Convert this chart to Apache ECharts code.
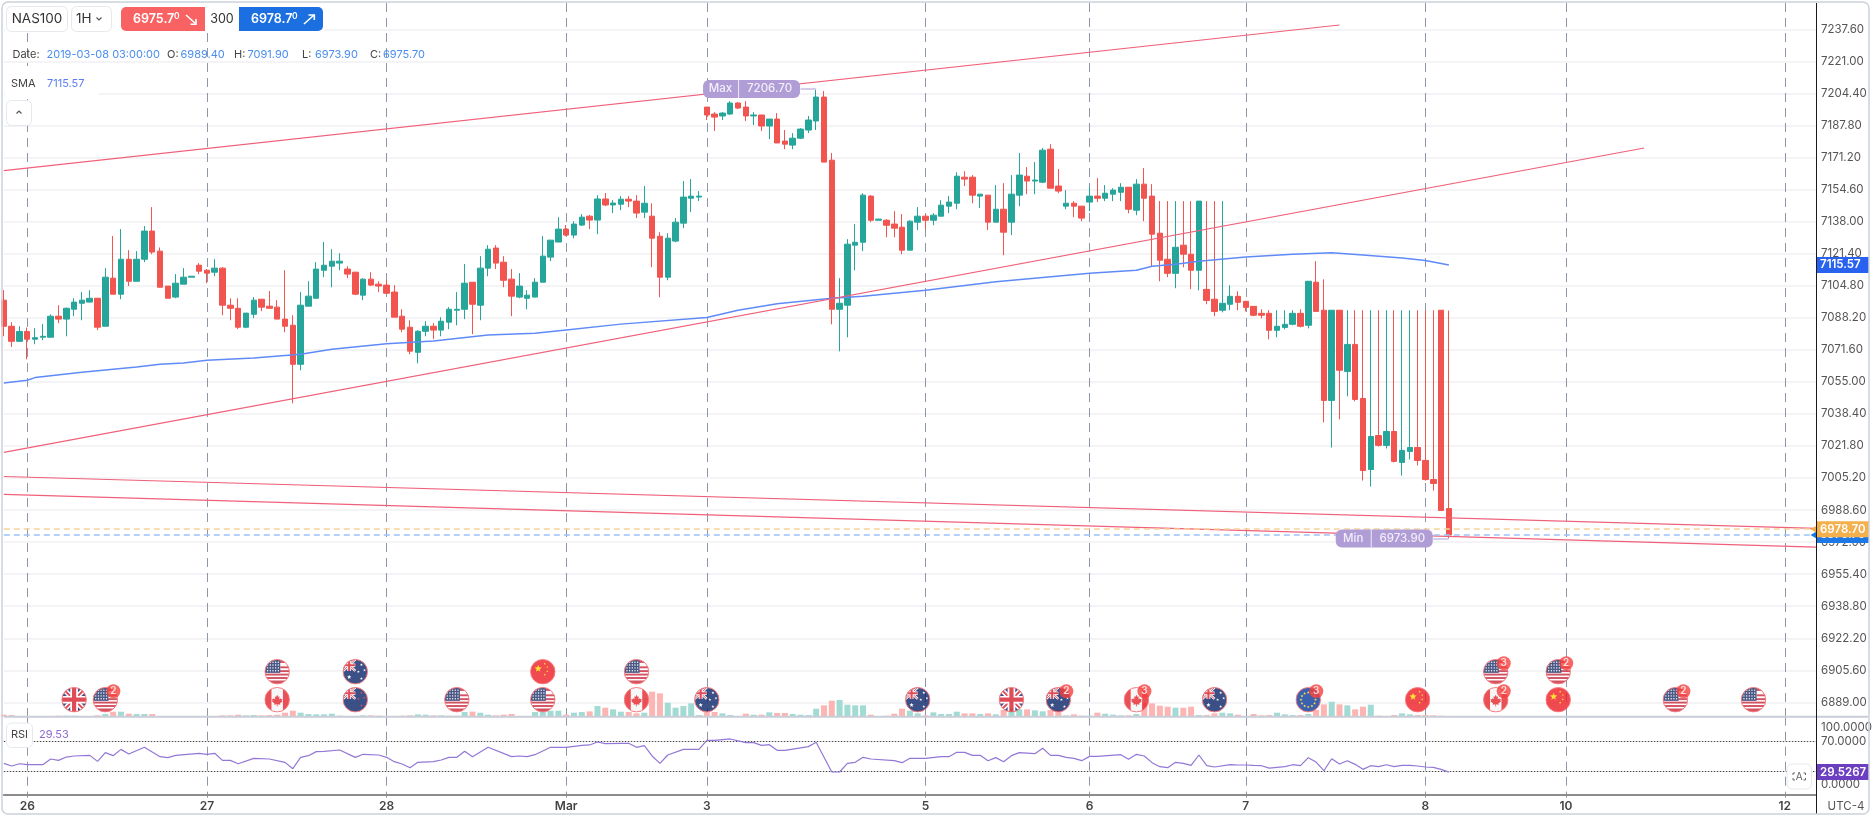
<!DOCTYPE html>
<html><head><meta charset="utf-8">
<style>html,body{margin:0;padding:0;background:#fff}#c{width:1872px;height:817px}</style>
<script src="https://cdn.jsdelivr.net/npm/echarts@6/dist/echarts.min.js"></script>
</head><body><div id="c"></div>
<script>
// ---------- tick labels ----------
const slotCount = 233;
const dayTickIndex = [3,26,49,72,90,118,139,159,182,200,228];
const dayTickLabels = ['26','27','28','Mar','3','5','6','7','8','10','12'];
const priceTicks = [6889,6905.6,6922.2,6938.8,6955.4,6972,6988.6,7005.2,7021.8,7038.4,7055,7071.6,7088.2,7104.8,7121.4,7138,7154.6,7171.2,7187.8,7204.4,7221,7237.6];
const rsiTicks = [0,70,100];
// ---------- candles ----------
const opens = [7097.3,7083.8,7076.0,7081.1,7077.1,7078.1,7078.1,7089.0,7087.5,7092.6,7095.7,7096.3,7098.3,7083.8,7108.7,7100.4,7118.5,7107.1,7118.5,7133.1,7122.7,7104.6,7098.9,7105.6,7109.2,7115.4,7112.8,7111.8,7113.9,7094.7,7093.1,7083.3,7090.0,7097.8,7094.2,7093.7,7087.5,7084.3,7064.1,7094.2,7098.3,7112.8,7114.9,7116.5,7113.4,7111.8,7099.9,7108.2,7105.6,7105.1,7101.5,7089.0,7083.3,7070.3,7081.2,7083.8,7081.8,7085.9,7092.1,7092.6,7106.6,7094.7,7113.9,7124.3,7117.0,7108.2,7098.9,7098.3,7098.9,7106.6,7119.6,7127.4,7134.1,7131.0,7136.2,7140.8,7138.8,7149.7,7146.6,7147.0,7149.6,7148.6,7142.9,7140.8,7130.4,7109.2,7127.9,7137.2,7150.1,7150.7,7197.3,7193.7,7192.7,7193.7,7199.4,7197.3,7192.7,7193.2,7187.5,7191.1,7179.7,7177.6,7181.2,7185.4,7190.1,7202.5,7169.8,7092.6,7094.7,7125.8,7127.3,7151.2,7138.7,7138.7,7136.7,7135.1,7123.2,7137.7,7140.8,7138.7,7140.8,7146.0,7147.5,7161.0,7161.0,7151.2,7151.7,7137.7,7144.4,7137.7,7151.7,7161.5,7159.0,7158.4,7175.5,7156.4,7146.0,7147.5,7146.0,7148.1,7151.2,7150.1,7152.2,7153.2,7155.8,7143.9,7157.4,7151.2,7132.0,7118.5,7111.2,7125.8,7121.1,7112.8,7102.9,7097.8,7092.1,7095.2,7099.3,7096.7,7094.1,7090.5,7090.5,7081.7,7083.2,7084.8,7090.5,7084.3,7106.6,7092.1,7045.4,7092.1,7060.4,7074.4,7046.4,7009.6,7027.2,7022.1,7029.3,7013.3,7019.0,7021.0,7014.3,7004.4,7092.1,6989.4];
const closes = [7083.8,7076.0,7081.1,7077.1,7077.9,7078.6,7089.0,7087.5,7093.1,7096.3,7097.3,7098.3,7083.3,7109.2,7100.4,7118.5,7107.1,7118.5,7133.1,7122.2,7104.0,7098.3,7106.1,7109.2,7109.7,7112.3,7111.3,7113.9,7094.7,7093.1,7083.3,7090.6,7097.3,7093.7,7093.1,7087.5,7083.8,7064.1,7094.7,7099.4,7113.4,7115.4,7117.5,7117.5,7110.8,7100.4,7108.2,7105.1,7104.6,7100.9,7088.5,7082.3,7070.9,7081.2,7083.8,7081.8,7086.4,7092.6,7092.6,7106.1,7095.2,7113.9,7123.7,7116.5,7107.6,7099.4,7104.6,7099.9,7106.6,7120.1,7128.4,7134.1,7131.0,7136.7,7140.3,7138.8,7149.7,7146.6,7147.6,7149.6,7148.6,7142.4,7147.5,7129.4,7109.2,7129.4,7137.7,7150.7,7151.2,7151.2,7193.2,7192.1,7194.2,7199.4,7196.8,7192.7,7193.2,7187.5,7191.1,7178.7,7178.1,7181.2,7185.9,7190.6,7202.5,7168.8,7092.6,7095.7,7126.3,7127.3,7151.7,7138.7,7139.3,7136.1,7134.6,7123.2,7138.2,7140.8,7138.7,7141.3,7146.5,7148.1,7161.5,7160.0,7151.7,7152.2,7137.7,7144.4,7132.5,7152.2,7162.1,7159.0,7159.5,7175.0,7155.3,7153.8,7147.5,7146.0,7139.8,7151.2,7150.1,7152.7,7154.3,7155.8,7144.4,7157.4,7150.1,7131.5,7118.0,7111.2,7124.7,7121.1,7112.8,7148.6,7097.2,7091.5,7095.7,7099.3,7096.2,7093.6,7089.5,7089.5,7081.7,7083.8,7084.8,7090.5,7083.8,7107.1,7091.5,7045.4,7092.1,7061.0,7074.4,7045.9,7009.1,7026.7,7022.1,7029.3,7013.8,7019.5,7021.0,7014.3,7004.4,7002.4,6988.4,6975.7];
const highs = [7102.5,7085.9,7083.8,7083.1,7082.8,7084.9,7090.0,7094.7,7093.5,7098.3,7101.5,7102.5,7098.5,7113.9,7130.5,7134.1,7123.2,7122.7,7135.7,7145.5,7124.6,7104.6,7110.8,7113.9,7109.7,7116.5,7113.4,7118.5,7114.4,7098.3,7098.3,7090.6,7098.9,7097.8,7102.0,7097.3,7112.8,7089.5,7101.5,7107.1,7117.0,7127.4,7123.7,7121.6,7114.9,7111.8,7108.7,7111.8,7107.1,7107.6,7105.1,7092.6,7086.9,7081.8,7086.4,7085.4,7088.5,7093.7,7101.5,7116.0,7106.6,7120.1,7125.8,7125.8,7120.1,7113.4,7111.3,7102.5,7108.7,7130.5,7128.4,7140.3,7136.2,7138.2,7141.9,7141.4,7151.7,7152.8,7149.1,7151.2,7151.2,7151.7,7156.4,7147.5,7132.5,7132.0,7139.8,7159.0,7160.0,7153.8,7197.3,7194.7,7194.7,7200.4,7199.9,7200.4,7194.7,7193.2,7191.1,7194.2,7185.4,7183.8,7186.4,7192.7,7206.7,7205.6,7173.5,7108.7,7128.9,7136.7,7152.7,7151.7,7139.3,7139.3,7143.4,7141.9,7138.7,7145.5,7141.9,7142.4,7149.1,7151.2,7163.6,7164.1,7162.1,7152.2,7151.7,7156.9,7157.9,7162.1,7173.5,7166.2,7168.8,7176.1,7178.1,7165.2,7154.3,7148.6,7146.0,7155.8,7160.5,7156.9,7155.3,7157.9,7155.8,7160.0,7165.7,7157.4,7148.6,7148.6,7148.6,7148.6,7148.6,7148.6,7148.6,7148.6,7148.6,7105.0,7101.9,7096.7,7094.1,7092.6,7092.1,7092.1,7092.1,7092.1,7092.6,7107.1,7117.5,7108.1,7092.1,7092.1,7092.1,7092.1,7092.1,7092.1,7092.1,7092.1,7092.1,7092.1,7092.1,7092.1,7092.1,7092.1,7092.1,7091.9];
const lows = [7078.6,7073.1,7076.0,7066.7,7074.5,7076.6,7078.1,7085.4,7078.6,7089.0,7086.9,7096.3,7081.8,7083.8,7100.4,7097.8,7104.6,7107.1,7117.0,7121.1,7104.0,7098.3,7098.3,7105.6,7109.2,7110.8,7106.1,7109.7,7089.5,7086.9,7082.3,7082.8,7088.0,7091.6,7093.1,7087.5,7080.7,7043.9,7061.0,7094.2,7098.3,7109.2,7104.0,7112.8,7108.7,7099.9,7097.3,7104.6,7101.5,7100.9,7088.5,7080.7,7069.3,7064.6,7078.6,7077.1,7078.6,7082.3,7084.3,7087.5,7079.7,7086.9,7109.7,7113.4,7104.0,7089.0,7098.3,7092.6,7098.9,7106.6,7117.5,7127.4,7130.5,7129.4,7135.7,7134.1,7131.5,7146.0,7142.4,7143.9,7145.5,7139.8,7139.8,7114.4,7098.8,7107.6,7127.3,7134.6,7142.9,7148.6,7190.6,7184.9,7190.6,7193.2,7196.3,7190.1,7188.0,7184.9,7180.7,7178.7,7175.5,7175.5,7180.7,7183.8,7185.4,7168.8,7084.8,7070.8,7078.1,7112.8,7122.7,7137.7,7138.7,7129.9,7129.9,7121.1,7123.2,7133.6,7134.1,7136.1,7140.8,7142.4,7144.4,7156.4,7147.5,7145.0,7133.6,7137.7,7120.6,7131.0,7146.0,7152.2,7152.2,7157.9,7155.3,7152.7,7144.4,7140.3,7138.2,7143.4,7148.1,7148.6,7148.6,7148.6,7142.3,7141.3,7138.2,7114.9,7107.1,7109.2,7103.5,7114.3,7103.0,7102.4,7095.2,7089.0,7091.0,7092.1,7092.1,7091.5,7089.0,7087.9,7077.0,7078.1,7082.2,7084.3,7083.2,7082.7,7091.5,7034.0,7021.0,7035.6,7047.5,7044.9,7003.9,7000.8,7021.5,7020.5,7013.3,7006.5,7014.8,7011.7,7003.9,6998.7,6988.4,6973.9];
const volumes = [6,5,2,2,2,2,2,3,3,3,2,2,4,8,15,15,9,8,8,8,2,1,1,1,1,0,1,2,4,4,6,4,5,4,5,6,12,18,12,8,7,7,9,3,2,2,4,4,3,2,2,3,4,7,6,4,4,3,3,14,15,12,6,4,6,8,2,2,14,14,18,18,6,12,14,16,32,27,22,15,14,10,12,75,70,42,27,32,40,5,14,14,10,5,1,9,6,6,13,11,11,8,6,5,24,34,48,50,36,34,34,6,0,3,9,24,18,10,4,13,8,8,15,10,10,8,10,7,20,24,22,22,19,16,20,20,4,7,3,3,12,9,6,4,4,8,42,40,33,30,27,27,30,5,5,10,12,10,6,2,8,4,5,12,7,5,5,8,20,37,45,37,34,22,30,36,3,2,5,10,7,5,5,4,3,2];
// ---------- SMA(index, value) and RSI(index, value) ----------
const smaIndex = [0,3,4,10,17,20,23,26,32,38,42,49,55,62,68,72,79,90,94,99,106,110,118,127,139,145,147,150,153,159,165,170,174,179,182,185];
const smaValues = [7054.4,7055.8,7057.2,7060.0,7062.7,7064.1,7064.8,7066.2,7067.4,7069.3,7071.9,7074.7,7076.2,7079.3,7080.2,7081.9,7084.9,7088.3,7092.1,7095.5,7098.3,7099.3,7102.5,7106.8,7111.3,7112.8,7114.9,7115.9,7117.5,7119.7,7121.1,7121.8,7120.7,7119.2,7117.8,7115.57];
const rsiIndex = [0,1,2,3,5,6,7,8,9,11,12,13,14,15,16,18,20,21,22,25,26,27,28,29,30,32,34,36,37,38,39,40,41,43,45,46,48,49,50,51,52,53,55,56,57,58,59,60,62,65,66,67,68,70,72,74,75,76,77,79,80,81,82,83,84,85,87,89,90,91,93,95,96,97,98,99,100,103,104,106,107,108,109,110,111,114,115,116,118,120,121,122,123,124,125,126,127,128,129,130,132,133,134,135,136,137,138,139,140,143,144,145,146,147,148,149,150,151,152,153,154,155,157,158,159,160,161,162,164,165,166,167,168,169,170,171,172,173,174,175,176,177,178,179,180,181,182,183,184,185];
const rsiValues = [41.0,37.5,40.5,39.2,39.2,46.7,44.9,49.3,50.7,51.5,43.6,55.1,51.1,59.4,53.3,62.1,49.8,48.5,51.5,54.2,52.9,54.2,44.9,44.9,40.5,47.6,46.7,42.3,34.0,48.9,51.1,56.4,56.8,58.6,48.9,52.9,52.0,48.9,43.2,40.1,35.3,42.3,43.2,45.4,48.9,48.9,56.8,49.8,62.1,49.8,50.7,49.8,52.4,62.1,62.1,64.7,65.2,69.1,66.9,67.4,67.4,62.1,64.3,50.7,41.0,52.0,59.4,59.4,71.3,71.3,73.1,68.2,68.2,64.7,65.6,58.1,58.1,63.0,68.7,29.6,29.6,41.0,42.3,48.9,46.7,44.5,41.9,47.6,47.6,49.8,49.8,55.5,55.5,51.5,51.5,44.5,48.5,43.2,51.1,55.1,53.7,60.8,51.5,51.5,48.9,47.6,44.5,50.2,50.2,52.4,46.3,52.9,50.7,41.9,36.6,35.3,42.3,41.0,38.3,52.0,37.9,36.2,39.2,38.8,38.8,38.3,37.9,34.8,36.6,39.2,37.9,48.5,42.7,31.3,47.1,40.1,44.5,39.7,33.1,37.9,36.6,39.2,36.6,38.3,38.3,37.5,36.2,35.7,33.1,29.53];
// ---------- trend lines: [startIndex, startPrice, endIndex, endPrice] ----------
const trendHigh = [0,7164.4,171,7239.8];
const trendMid = [0,7018.5,210,7176.1];
const trendLowA = [0,7006.0,232,6979.1];
const trendLowB = [0,6996.7,232,6969.4];
// ---------- last values ----------
const askPrice = 6978.7, bidPrice = 6975.7, smaLast = 7115.57, rsiLast = 29.5267;
const maxIndex = 104, maxPrice = 7206.7, minIndex = 185, minPrice = 6973.9;
// ---------- calendar events ----------
const eventIndex = [9,13,35,35,45,45,58,69,69,81,81,90,117,129,135,145,155,167,181,191,191,199,199,214,224];
const eventPrice = [6890.4,6890.4,6904.9,6890.4,6904.9,6890.4,6890.4,6904.9,6890.4,6904.9,6890.4,6890.4,6890.4,6890.4,6890.4,6890.4,6890.4,6890.4,6890.4,6904.9,6890.4,6904.9,6890.4,6890.4,6890.4];
const eventFlag = ['uk','us','us','ca','au','nz','us','cn','us','us','ca','au','au','uk','au','ca','au','eu','cn','us','ca','us','cn','us','us'];
const eventBadge = [0,2,0,0,0,0,0,0,0,0,0,0,0,0,2,3,0,3,0,3,2,2,0,2,0];

const UP='#26a69a', DOWN='#f2544f', FONT='Inter, "Noto Sans", sans-serif', CLEAR='rgba(0,0,0,0)';
const categories = Array.from({length:slotCount},(_,i)=>{const k=dayTickIndex.indexOf(i);return k>=0?dayTickLabels[k]:String(i);});
const isDay = i => dayTickIndex.includes(i);
const candleData = opens.map((o,i)=>[o,closes[i],lows[i],highs[i]]);
const volData = volumes.map((v,i)=>({value:v,itemStyle:{color:closes[i]>=opens[i]?'#a1dbd3':'#fcb5b2'}}));
const pairs = (a,b)=>a.map((x,i)=>[x,b[i]]);
const seg = t=>[[t[0],t[1]],[t[2],t[3]]];

// ---------- flag art ----------
function union(x,y,w,h){return `<g transform="translate(${x} ${y}) scale(${w/64} ${h/64})"><rect width="64" height="64" fill="#12296b"/><path d="M0 0L64 64M64 0L0 64" stroke="#fff" stroke-width="13"/><path d="M0 0L64 64M64 0L0 64" stroke="#d8202f" stroke-width="5"/><path d="M32 0V64M0 32H64" stroke="#fff" stroke-width="20"/><path d="M32 0V64M0 32H64" stroke="#d8202f" stroke-width="11"/></g>`;}
function star(x,y,r,c){let p=[];for(let k=0;k<10;k++){const a=-Math.PI/2+k*Math.PI/5,q=k%2?r*0.42:r;p.push((x+q*Math.cos(a)).toFixed(1)+','+(y+q*Math.sin(a)).toFixed(1));}return `<polygon points="${p.join(' ')}" fill="${c}"/>`;}
const art = {
 us:()=>{let s='<rect width="64" height="64" fill="#fff"/>';[28,37,46,55].forEach((y,k)=>{s+=`<rect y="${y}" width="64" height="${k==3?9:5}" fill="#c8283c"/>`;});s+='<rect y="0" width="64" height="9" fill="#c8283c"/><rect y="18" x="40" width="24" height="5" fill="#c8283c"/><rect width="40" height="35" fill="#1c2f66"/>';for(let r=0;r<4;r++)for(let c=0;c<5;c++)s+=`<circle cx="${7+c*7}" cy="${7+r*7.5}" r="1.9" fill="#fff"/>`;return s;},
 uk:()=>union(0,0,64,64),
 ca:()=>'<rect width="64" height="64" fill="#f5f5f7"/><rect width="17" height="64" fill="#e5262d"/><rect x="47" width="17" height="64" fill="#e5262d"/><path d="M32 19l3 6 3-2-1 8 4-3 1 3 4-1-2 5 2 1-7 6 1 3-7-1v6h-2v-6l-7 1 1-3-7-6 2-1-2-5 4 1 1-3 4 3-1-8 3 2z" fill="#e5262d"/>',
 au:()=>`<rect width="64" height="64" fill="#0a2568"/>${union(0,0,32,30)}${star(16,46,6,'#fff')}${star(48,14,4,'#fff')}${star(40,32,4,'#fff')}${star(56,28,4,'#fff')}${star(48,50,4,'#fff')}`,
 nz:()=>`<rect width="64" height="64" fill="#0a2568"/>${union(0,0,32,30)}${star(48,14,3.6,'#d8202f')}${star(40,30,3.6,'#d8202f')}${star(55,27,3.6,'#d8202f')}${star(48,47,3.6,'#d8202f')}`,
 cn:()=>`<rect width="64" height="64" fill="#ee1c25"/>${star(20,24,10,'#ffdd00')}${star(37,11,3.2,'#ffdd00')}${star(44,20,3.2,'#ffdd00')}${star(44,31,3.2,'#ffdd00')}${star(37,40,3.2,'#ffdd00')}`,
 eu:()=>{let s='<rect width="64" height="64" fill="#0b3a9c"/>';for(let k=0;k<12;k++){const a=k*Math.PI/6;s+=star(32+19*Math.cos(a),32+19*Math.sin(a),4,'#ffd617');}return s;}
};
function flagSymbol(name){
 const svg=`<svg xmlns="http://www.w3.org/2000/svg" width="128" height="128" viewBox="-2 -2 68 68"><defs><clipPath id="k"><circle cx="32" cy="32" r="32"/></clipPath></defs><g clip-path="url(#k)">${art[name]()}</g><circle cx="32" cy="32" r="32" fill="none" stroke="#f45a5e" stroke-width="2.6"/></svg>`;
 return 'image://data:image/svg+xml;charset=utf-8,'+encodeURIComponent(svg);
}
const eventData = eventIndex.map((x,i)=>({value:[x,eventPrice[i]],symbol:flagSymbol(eventFlag[i])}));
const badgeData = eventIndex.map((x,i)=>eventBadge[i]?{value:[x,eventPrice[i],eventBadge[i]]}:null).filter(Boolean);

// ---------- overlay chrome ----------
const g=[];
function T(x,y,text,o={}){g.push({type:'text',z:102,x,y,style:{text,fill:o.c||'#333',font:`${o.w||400} ${o.s||11}px ${FONT}`,textAlign:o.a||'left',textVerticalAlign:'middle'}});}
function R(x,y,w,h,o={}){g.push({type:'rect',z:o.z||101,shape:{x,y,width:w,height:h,r:o.r==null?5:o.r},style:{fill:o.f||'#fff',stroke:o.s||null,lineWidth:o.lw||1}});}
function P(pts,o={}){g.push({type:'polyline',z:o.z||103,shape:{points:pts},style:{stroke:o.c||'#555',lineWidth:o.lw||1.2,fill:null}});}
R(5,3,320,30,{z:100,r:0}); R(5,66,94,33,{z:100,r:0});
R(1816,3,1,811,{f:'#1a1a1a',r:0,z:99});
R(4,715.7,1864,2,{f:'#c9cdd8',r:0,z:98});
R(6.5,6.5,61,25,{s:'#e6e8ed'}); T(37,19,'NAS100',{s:13.5,a:'center'});
R(71.5,6.5,40,25,{s:'#e6e8ed'}); T(76,19,'1H',{s:13.5}); P([[96.5,17.5],[99,20],[101.5,17.5]]);
R(121,7,84,24,{f:'#f96262',r:[5,0,0,5]}); T(133,19,'6975.7',{s:12.5,c:'#fff',w:600}); T(174,16,'0',{s:8.5,c:'#fff',w:600});
P([[186,15],[196,24]],{c:'#fff',lw:1.6}); P([[196,19],[196,24.3],[190.5,24.3]],{c:'#fff',lw:1.6});
T(222,19,'300',{s:12.5,a:'center'});
R(239,7,84,24,{f:'#1c6fe0',r:[0,5,5,0]}); T(251,19,'6978.7',{s:12.5,c:'#fff',w:600}); T(292,16,'0',{s:8.5,c:'#fff',w:600});
P([[304,24],[314,15]],{c:'#fff',lw:1.6}); P([[308.5,15],[314.3,15],[314.3,20]],{c:'#fff',lw:1.6});
const blue='#4a8ef0';
T(12.5,55,'Date:',{c:'#444'}); T(46.5,55,'2019-03-08 03:00:00',{c:blue});
T(167,55,'O:',{c:'#444'}); T(180.5,55,'6989.40',{c:blue});
T(234,55,'H:',{c:'#444'}); T(247.5,55,'7091.90',{c:blue});
T(302,55,'L:',{c:'#444'}); T(315,55,'6973.90',{c:blue});
T(370,55,'C:',{c:'#444'}); T(383,55,'6975.70',{c:blue});
T(11,84,'SMA',{c:'#444'}); T(47,84,'7115.57',{c:'#5a7df2'});
R(6.5,100.5,25,25,{s:'#e6e8ed'}); P([[16.5,113.5],[19,111],[21.5,113.5]]);
R(6.5,723,26,24.5,{s:'#e6e8ed'}); T(19.5,735,'RSI',{a:'center',c:'#444'}); T(39,735,'29.53',{c:'#8e6ad0'});
R(1787,764,24.5,25,{s:'#e6e8ed'}); T(1799.2,776.5,'A',{s:10,a:'center',c:'#666'});
[[1793,773,1,1],[1805.5,773,-1,1],[1793,780,1,-1],[1805.5,780,-1,-1]].forEach(q=>P([[q[0],q[1]+2*q[3]],[q[0],q[1]],[q[0]+2*q[2],q[1]]],{c:'#666',lw:1}));
T(1846,806.5,'UTC-4',{s:11.5,a:'center',c:'#555'});
g.push({type:'rect',z:110,shape:{x:2,y:2,width:1867,height:812,r:6},style:{fill:null,stroke:'#ccd2da',lineWidth:1.5}});

const tagLabel=(text,color)=>({show:true,position:'end',distance:0,formatter:text,color:'#fff',backgroundColor:color,fontWeight:600,fontSize:11.5,fontFamily:FONT,padding:[1,0,1,4],width:49,height:14,lineHeight:14,align:'left'});

const option={
 animation:false,
 textStyle:{fontFamily:FONT},
 grid:[{left:3.8,top:3,width:1812.2,height:713.7,outerBoundsMode:'none'},{left:3.8,top:716.7,width:1812.2,height:80,outerBoundsMode:'none'}],
 xAxis:[
  {type:'category',gridIndex:0,data:categories,boundaryGap:false,axisLine:{show:false},axisTick:{show:false},axisLabel:{show:false},
   splitLine:{show:true,interval:isDay,lineStyle:{color:'#8e97a8',type:[9,6],width:1}}},
  {type:'category',gridIndex:1,data:categories,boundaryGap:false,axisLine:{show:true,lineStyle:{color:'#8c8c8c',width:2}},
   axisTick:{show:true,interval:isDay,length:3,lineStyle:{color:'#8c8c8c'}},
   axisLabel:{interval:isDay,color:'#444',fontWeight:600,fontSize:12,fontFamily:FONT,margin:4,hideOverlap:false},
   splitLine:{show:true,interval:isDay,lineStyle:{color:'#8e97a8',type:[9,6],width:1}}}
 ],
 yAxis:[
  {type:'value',gridIndex:0,position:'right',min:6881.6,max:7251.2,axisLine:{show:false},
   axisTick:{show:false,customValues:priceTicks},
   axisLabel:{customValues:priceTicks,formatter:v=>v.toFixed(2),color:'#555',fontSize:11.5,fontFamily:FONT,margin:5},
   splitLine:{show:true,lineStyle:{color:'#f0f1f3',width:1.5}}},
  {type:'value',gridIndex:0,min:0,max:2141,show:false,splitLine:{show:false}},
  {type:'value',gridIndex:1,position:'right',min:-2.9,max:102.4,axisLine:{show:false},
   axisTick:{show:false,customValues:rsiTicks},
   axisLabel:{customValues:rsiTicks,color:'#555',fontSize:11.5,fontFamily:FONT,margin:5,
     formatter:v=>v===100?'{t|100.0000}':v===0?'{b|0.0000}':'{m|70.0000}',
     rich:{t:{padding:[19,0,0,0],fontSize:11.5,color:'#555'},b:{padding:[0,0,19,0],fontSize:11.5,color:'#555'},m:{fontSize:11.5,color:'#555'}}},
   splitLine:{show:false}}
 ],
 graphic:g,
 series:[
  {name:'Volume',type:'bar',xAxisIndex:0,yAxisIndex:1,data:volData,barWidth:6,z:1,silent:true},
  {name:'Bid',type:'line',xAxisIndex:0,yAxisIndex:0,data:[[185,bidPrice]],showSymbol:false,clip:false,z:7,
   markLine:{z:7,silent:true,symbol:'none',lineStyle:{color:'#9cc4f6',type:[6,4],width:1.5},
     data:[{yAxis:bidPrice,label:tagLabel(bidPrice.toFixed(2),'#1c78e6')}]},
   markPoint:{z:7,silent:true,symbol:'triangle',symbolSize:[13,11],symbolRotate:90,itemStyle:{color:'#1c78e6'},label:{show:false},data:[{coord:[232,bidPrice]}]}},
  {name:'Ask',type:'line',xAxisIndex:0,yAxisIndex:0,data:[[185,askPrice]],showSymbol:false,clip:false,z:8,
   markLine:{z:8,silent:true,symbol:'none',lineStyle:{color:'#f8d29a',type:[6,4],width:1.5},
     data:[{yAxis:askPrice,label:tagLabel(askPrice.toFixed(2),'#f3b04d')}]},
   markPoint:{z:8,silent:true,symbol:'triangle',symbolSize:[13,11],symbolRotate:90,itemStyle:{color:'#f3b04d'},label:{show:false},data:[{coord:[232,askPrice]}]}},
  {name:'NAS100',type:'candlestick',xAxisIndex:0,yAxisIndex:0,data:candleData,barWidth:6,z:4,silent:true,clip:false,
   itemStyle:{color:UP,color0:DOWN,borderColor:UP,borderColor0:DOWN,borderWidth:1},
   markPoint:{z:12,silent:true,symbol:'circle',symbolSize:1,itemStyle:{color:CLEAR},
     label:{show:true,position:'left',distance:0,formatter:p=>`{a|${p.name}}{s| }{b|${p.value}}`,
       backgroundColor:'#b09dd6',borderRadius:6,padding:0,
       rich:{a:{width:35,align:'center',color:'#f2eefb',fontSize:11.5,fontFamily:FONT,fontWeight:500,height:18,lineHeight:18},
             s:{width:1,height:18,backgroundColor:'#efeaf8',fontSize:1},
             b:{width:61,align:'center',color:'#f2eefb',fontSize:11.5,fontFamily:FONT,fontWeight:500,height:18,lineHeight:18}}},
     data:[{name:'Max',value:maxPrice.toFixed(2),coord:[maxIndex-2,maxPrice]},{name:'Min',value:minPrice.toFixed(2),coord:[minIndex-2,minPrice]}]},
   markLine:{z:5,silent:true,symbol:'none',lineStyle:{color:'#d6cdec',width:2,type:'solid'},label:{show:false},
     data:[[{coord:[maxIndex-2,maxPrice]},{coord:[maxIndex,maxPrice]}],[{coord:[minIndex-2,minPrice]},{coord:[minIndex,minPrice]}]]}},
  {name:'SMA',type:'line',xAxisIndex:0,yAxisIndex:0,data:pairs(smaIndex,smaValues),showSymbol:false,z:5,silent:true,
   lineStyle:{color:'#5f8af7',width:1.5},
   markLine:{z:6,silent:true,symbol:'none',lineStyle:{color:CLEAR},data:[{yAxis:smaLast,label:tagLabel(smaLast.toFixed(2),'#2a62f0')}]}},
  ...[trendHigh,trendMid,trendLowA,trendLowB].map((t,i)=>({name:'Trend'+i,type:'line',xAxisIndex:0,yAxisIndex:0,data:seg(t),showSymbol:false,z:6,silent:true,lineStyle:{color:'#f0607a',width:1.2}})),
  {name:'Events',type:'scatter',xAxisIndex:0,yAxisIndex:0,data:eventData,symbolSize:26,z:9,silent:true,clip:false},
  {name:'Badges',type:'scatter',xAxisIndex:0,yAxisIndex:0,data:badgeData,symbol:'circle',symbolSize:14,symbolOffset:[8,-8.5],z:10,silent:true,clip:false,
   itemStyle:{color:'#f5413f'},label:{show:true,position:'inside',formatter:p=>String(p.value[2]),color:'#fff',fontSize:10,fontWeight:600,fontFamily:FONT}},
  {name:'RSI',type:'line',xAxisIndex:1,yAxisIndex:2,data:pairs(rsiIndex,rsiValues),showSymbol:false,z:5,silent:true,clip:false,
   lineStyle:{color:'#9277d6',width:1.2},
   markLine:{silent:true,symbol:'none',lineStyle:{color:'#444',type:[1.5,1.5],width:1.2},label:{show:false},
     data:[{yAxis:70},{yAxis:30},{yAxis:rsiLast,lineStyle:{color:CLEAR},label:tagLabel(rsiLast.toFixed(4),'#6b3fc0')}]}}
 ]
};
const chart=echarts.init(document.getElementById('c'),null,{renderer:'canvas',width:1872,height:817});
chart.setOption(option);
</script></body></html>
